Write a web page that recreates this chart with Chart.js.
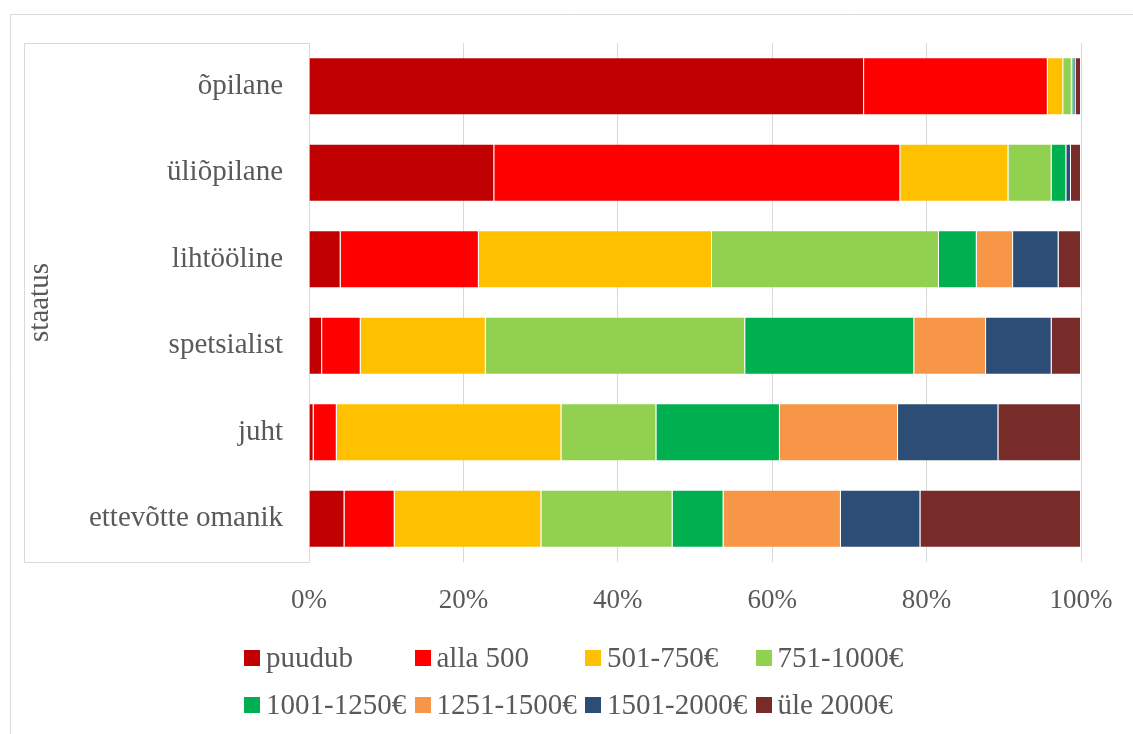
<!DOCTYPE html>
<html>
<head>
<meta charset="utf-8">
<script src="https://cdn.jsdelivr.net/npm/chart.js@4"></script>
<style>
  html, body { margin: 0; padding: 0; background: #fff; }
  #wrap { position: relative; width: 1133px; height: 734px; }
  #legend { position: absolute; left: 244px; top: 634px; width: 700px; }
  .row { display: flex; height: 47px; align-items: center; }
  .item { width: 170.5px; display: flex; align-items: center; white-space: nowrap;
          font-family: "Liberation Serif", "Times New Roman", serif; font-size: 29px; color: #595959; }
  .box { width: 16px; height: 16px; margin-right: 6px; flex: none; }
</style>
</head>
<body>
<div id="wrap">
  <canvas id="chart" width="1133" height="734"></canvas>
  <div id="legend"></div>
</div>
<script>
// kategooriad (ülevalt alla)
const statuses = ['õpilane', 'üliõpilane', 'lihtööline', 'spetsialist', 'juht', 'ettevõtte omanik'];
const incomeGroups = ['puudub', 'alla 500', '501-750€', '751-1000€', '1001-1250€', '1251-1500€', '1501-2000€', 'üle 2000€'];
const groupColors = ['#C00000', '#FF0000', '#FFC000', '#92D050', '#00B050', '#F79646', '#2C4D75', '#772C2A'];
const xTicks = [0, 20, 40, 60, 80, 100];

// osakaal % iga sissetulekugrupi kohta, järjekorras nagu statuses
const puudub    = [71.9, 24.0,  4.1,  1.7,  0.6,  4.6];
const alla500   = [23.8, 52.6, 17.9,  5.0,  3.0,  6.5];
const s501_750  = [ 2.0, 14.0, 30.2, 16.2, 29.1, 19.0];
const s751_1000 = [ 1.1,  5.6, 29.4, 33.6, 12.3, 17.0];
const s1001_1250= [ 0.2,  1.9,  4.9, 21.9, 16.0,  6.6];
const s1251_1500= [ 0.0,  0.0,  4.7,  9.3, 15.3, 15.2];
const s1501_2000= [ 0.3,  0.6,  5.9,  8.5, 13.0, 10.3];
const yle2000   = [ 0.7,  1.3,  2.9,  3.8, 10.7, 20.8];
const seriesValues = [puudub, alla500, s501_750, s751_1000, s1001_1250, s1251_1500, s1501_2000, yle2000];

const FONT = '"Liberation Serif", "Times New Roman", serif';
const TXT = '#595959';
const LINE = '#d9d9d9';

// raamid nagu Exceli diagrammil
const framePlugin = {
  id: 'frame',
  beforeDraw(chart) {
    const ctx = chart.ctx, a = chart.chartArea;
    ctx.save();
    ctx.strokeStyle = LINE;
    ctx.lineWidth = 1;
    ctx.beginPath();
    // välimine raam
    ctx.moveTo(10.5, chart.height); ctx.lineTo(10.5, 14.5); ctx.lineTo(chart.width, 14.5);
    // kategooriate kast
    ctx.moveTo(Math.round(a.left) + 0.5, a.top + 0.5);
    ctx.lineTo(24.5, a.top + 0.5);
    ctx.lineTo(24.5, Math.round(a.bottom) + 0.5);
    ctx.lineTo(Math.round(a.left) + 0.5, Math.round(a.bottom) + 0.5);
    ctx.stroke();
    ctx.restore();
  }
};

const datasets = incomeGroups.map((name, i) => ({
  label: name,
  data: seriesValues[i],
  backgroundColor: groupColors[i],
  borderColor: 'rgba(255,255,255,0.2)',
  borderWidth: 1,
  barPercentage: 0.67,
  categoryPercentage: 1.0
}));

const chart = new Chart(document.getElementById('chart').getContext('2d'), {
  type: 'bar',
  data: { labels: statuses, datasets: datasets },
  options: {
    indexAxis: 'y',
    responsive: false,
    animation: false,
    layout: { padding: { top: 43, right: 52, left: 0, bottom: 0 } },
    plugins: { legend: { display: false }, tooltip: { enabled: false } },
    scales: {
      x: {
        stacked: true, min: 0, max: 100,
        afterBuildTicks: s => { s.ticks = xTicks.map(v => ({ value: v })); },
        afterFit: s => { s.height = 172; s.paddingLeft = 0; s.paddingRight = 0; },
        grid: { color: LINE, lineWidth: 1, drawTicks: false },
        border: { display: false },
        ticks: { padding: 23, color: TXT, font: { family: FONT, size: 27 }, callback: v => v + '%', maxRotation: 0 }
      },
      y: {
        stacked: true,
        afterFit: s => { s.width = 309; },
        grid: { display: false },
        border: { display: false },
        ticks: { padding: 18, color: TXT, font: { family: FONT, size: 29 } },
        title: { display: true, text: 'staatus', color: TXT, font: { family: FONT, size: 29 }, padding: { top: 23, bottom: 0 } }
      }
    }
  },
  plugins: [framePlugin]
});

// legend (4 veergu, 2 rida)
const legendEl = document.getElementById('legend');
for (let r = 0; r < 2; r++) {
  const row = document.createElement('div');
  row.className = 'row';
  for (let c = 0; c < 4; c++) {
    const i = r * 4 + c;
    const it = document.createElement('div');
    it.className = 'item';
    it.innerHTML = '<span class="box" style="background:' + groupColors[i] + '"></span><span>' + incomeGroups[i] + '</span>';
    row.appendChild(it);
  }
  legendEl.appendChild(row);
}
</script>
</body>
</html>
